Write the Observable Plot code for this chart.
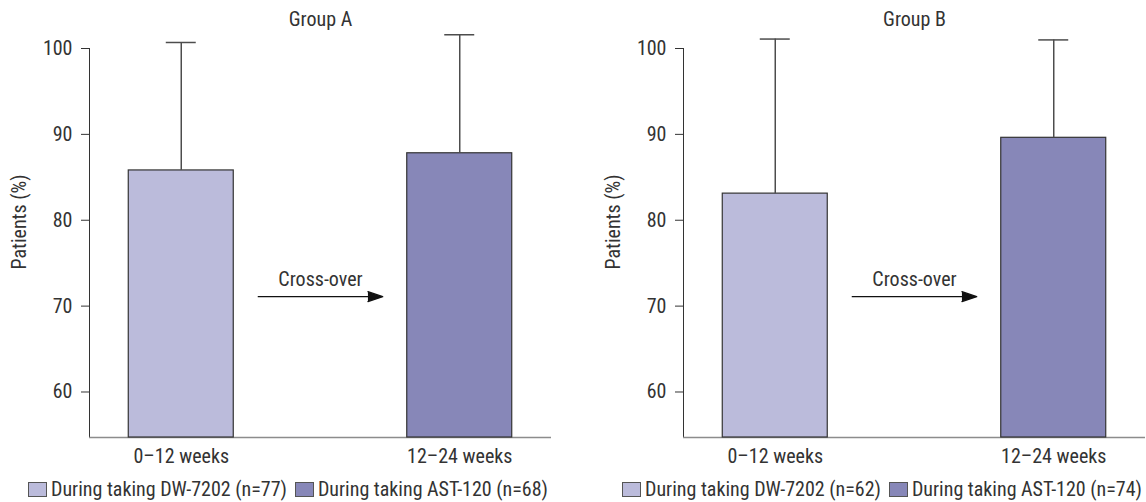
<!DOCTYPE html>
<html><head><meta charset="utf-8">
<script src="https://cdn.jsdelivr.net/npm/d3@7"></script>
<script src="https://cdn.jsdelivr.net/npm/@observablehq/plot@0.6"></script>
<style>
body{margin:0;background:#fff;}
#wrap{position:relative;width:1146px;height:502px;overflow:hidden;font-family:"Liberation Sans Narrow","Roboto Condensed","DejaVu Sans Condensed",sans-serif;color:#333;}
.panel{position:absolute;top:0;}
.legend{position:absolute;top:478px;display:flex;align-items:center;font-size:20px;white-space:nowrap;line-height:22px;color:#333;}
.sw{display:inline-block;width:17px;height:13px;border:1px solid #555;margin-right:4px;}
.item{display:flex;align-items:center;margin-right:8px;}
</style></head><body><div id="wrap"></div>
<script>
const periods = ["0–12 weeks", "12–24 weeks"];
const drugs = ["DW-7202", "AST-120"];
const groupNames = ["Group A", "Group B"];
const groupAMean = [85.8, 87.8];
const groupAUpper = [100.7, 101.6];
const groupBMean = [83.1, 89.6];
const groupBUpper = [101.1, 101.0];
const groupAN = [77, 68];
const groupBN = [62, 74];
const yTicks = [60, 70, 80, 90, 100];
const yDomain = [54.7, 100];
const yLabel = "Patients (%)";
const arrowLabel = "Cross-over";
const arrowY = 71.1;
const arrowLabelY = 72.4;
const barColors = ["#bbbbdb", "#8787b8"];

const FONT = '"Liberation Sans Narrow","Roboto Condensed","DejaVu Sans Condensed",sans-serif';
const wrap = document.getElementById("wrap");

function panel(name, means, uppers, ns, left, width, marginRight, legendLeft) {
  const rows = periods.map((p, i) => ({period: p, drug: drugs[i], mean: means[i], upper: uppers[i]}));
  const svg = Plot.plot({
    width, height: 470,
    marginLeft: 89, marginRight, marginTop: 48, marginBottom: 33,
    x: {domain: periods, type: "band", paddingInner: 0.623, paddingOuter: 0.141, round: false, axis: null},
    y: {domain: yDomain, ticks: yTicks, tickSize: 8, tickPadding: 9, line: true, label: null},
    color: {domain: drugs, range: barColors},
    style: {fontFamily: FONT, fontSize: "20px", color: "#333", background: "white", overflow: "visible"},
    marks: [
      Plot.ruleY([yDomain[0]], {stroke: "#8c8c8c", strokeWidth: 1.5}),
      Plot.barY(rows, {x: "period", y1: yDomain[0], y2: "mean", fill: "drug", stroke: "#333", strokeWidth: 1.2}),
      Plot.ruleX(rows, {x: "period", y1: "mean", y2: "upper", stroke: "#4d4d4d", strokeWidth: 1.5}),
      Plot.tickY(rows, {x: "period", y: "upper", stroke: "#4d4d4d", strokeWidth: 1.5, insetLeft: 37.5, insetRight: 37.5}),
      Plot.axisX({tickSize: 0, tickPadding: 11, label: null, fill: "#333"}),
      Plot.arrow([{from: periods[0], to: periods[1], y: arrowY}], {x1: "from", x2: "to", y1: "y", y2: "y", insetStart: 77, insetEnd: 77, headLength: 18, headAngle: 37, stroke: "#111", fill: "#111", strokeWidth: 1.3}),
      Plot.text([{label: arrowLabel, y: arrowLabelY}], {text: "label", y: "y", frameAnchor: "middle", lineAnchor: "bottom", fill: "#333"}),
      Plot.text([name], {frameAnchor: "top", lineAnchor: "middle", dy: -29, fill: "#333"}),
      Plot.text([yLabel], {frameAnchor: "left", textAnchor: "middle", rotate: -90, lineAnchor: "middle", dx: -69.5, dy: -21, fill: "#333"})
    ]
  });
  svg.classList.add("panel");
  svg.style.left = left + "px";
  wrap.appendChild(svg);

  const leg = document.createElement("div");
  leg.className = "legend";
  leg.style.left = legendLeft + "px";
  drugs.forEach((d, i) => {
    const it = document.createElement("div");
    it.className = "item";
    const sw = document.createElement("span");
    sw.className = "sw";
    sw.style.background = barColors[i];
    it.appendChild(sw);
    it.appendChild(document.createTextNode(`During taking ${d} (n=${ns[i]})`));
    leg.appendChild(it);
  });
  wrap.appendChild(leg);
}

panel(groupNames[0], groupAMean, groupAUpper, groupAN, 0, 573, 22, 28);
panel(groupNames[1], groupBMean, groupBUpper, groupBN, 594, 552, 1, 622);
</script></body></html>
